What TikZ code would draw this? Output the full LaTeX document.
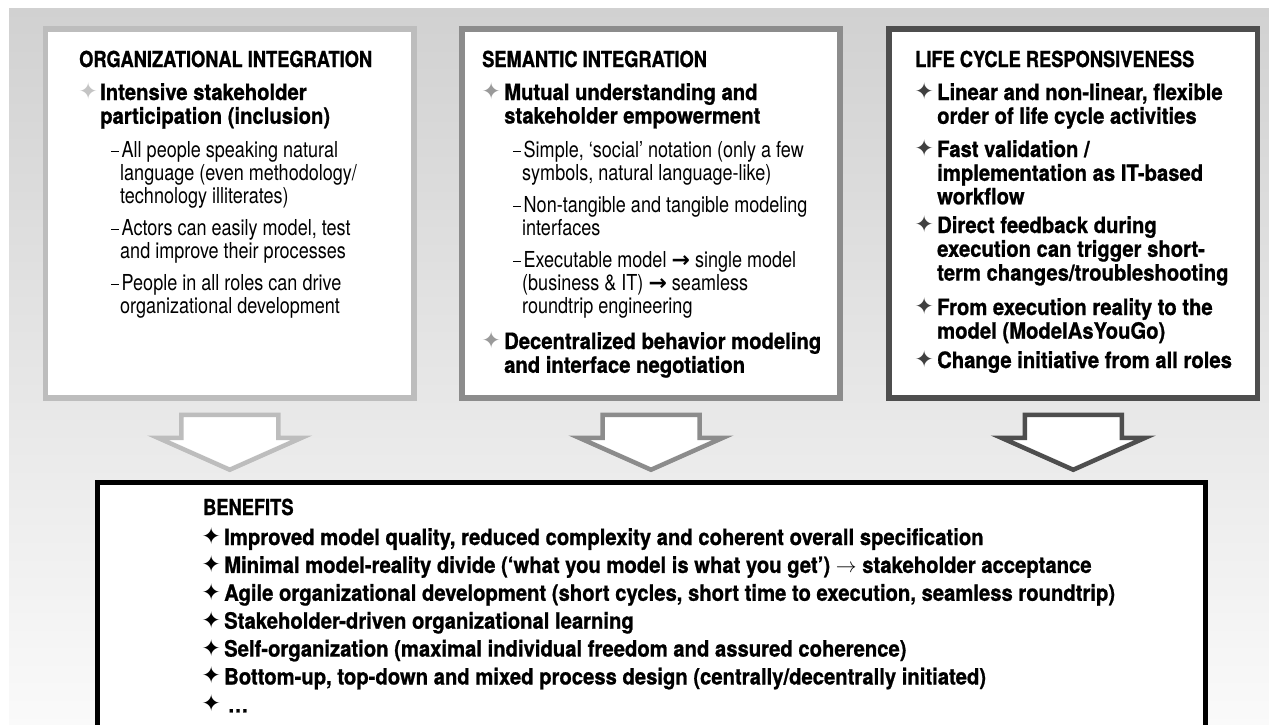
\documentclass[tikz,border=0pt]{standalone}
\usepackage{fontspec}
\setmainfont{TeX Gyre Heros}
\newfontfamily\headfont[FakeStretch=0.83,FakeBold=1]{TeX Gyre Heros}
\newfontfamily\itemfont[FakeStretch=0.9,FakeBold=0.9]{TeX Gyre Heros}
\newfontfamily\subfont[FakeStretch=0.82]{TeX Gyre Heros}
\newfontfamily\symfont{DejaVu Sans}
\usepackage{tikz}
\usetikzlibrary{positioning}

\definecolor{orggray}{HTML}{BDBDBD}
\definecolor{semgray}{HTML}{8C8C8C}
\definecolor{lifegray}{HTML}{4E4E4E}
\definecolor{orgstar}{HTML}{C4C4C4}
\definecolor{semstar}{HTML}{9A9A9A}
\definecolor{lifestar}{HTML}{404040}

% lines of one item, baseline on the first line
\newcommand{\stack}[1]{\begin{tabular}[t]{@{}l@{}}#1\end{tabular}}
\newcommand{\subdash}{\llap{\rule[5pt]{8pt}{1.3pt}\hspace{1pt}}\hspace{1.5pt}}

\begin{document}
\begin{tikzpicture}[x=1pt,y=-1pt,
	panel/.style={draw, fill=white, line width=5.5pt, minimum height=369pt},
	flow/.style={fill=white, line width=4.5pt, line join=miter},
	head/.style={anchor=base west, inner sep=0pt, font=\headfont\bfseries\fontsize{22}{24}\selectfont},
	item/.style={anchor=base west, inner sep=0pt, font=\itemfont\bfseries\fontsize{22.5}{23.5}\selectfont},
	sub/.style={anchor=base west, inner sep=0pt, font=\subfont\fontsize{22}{23.2}\selectfont},
	bul/.style={anchor=west, inner sep=0pt, text=#1, font=\symfont\fontsize{23}{23}\selectfont}]
	\useasboundingbox (0,0) rectangle (1269,725);
	\shade[top color=black!18, bottom color=black!2] (9,9) rectangle (1269,725);

	% the three panels
	\node[panel, draw=orggray, minimum width=368.5pt] (org) at (229.75,213.5) {};
	\node[panel, draw=semgray, minimum width=378pt] (sem) at (651,213.5) {};
	\node[panel, draw=lifegray, minimum width=368.5pt] (life) at (1073.25,213.5) {};

	% benefits box, runs off the bottom edge
	\node[draw, fill=white, line width=5pt, minimum width=1107.5pt, minimum height=277.5pt] (ben) at (651.25,621.25) {};

	% block arrows below the panels
	\foreach \p/\c in {org/orggray, sem/semgray, life/lifegray}
		\draw[flow, draw=\c] ([shift={(-48.5,14)}]\p.south) -- ++(0,23) -- ++(-23.5,0)
			-- ([shift={(0,69)}]\p.south) -- ++(72,-32) -- ++(-23.5,0) -- ++(0,-23) -- cycle;

	% organizational integration
	\node[head] (orghead) at (79,67) {ORGANIZATIONAL INTEGRATION};
	\node[bul=orgstar] (orgb1) at (78.5,91) {✦};
	\node[item] (orgi1) at (100,100) {\stack{Intensive stakeholder\\participation (inclusion)}};
	\node[sub] (orgs1) at (120,157) {\stack{\subdash All people speaking natural\\language (even methodology/\\technology illiterates)}};
	\node[sub] (orgs2) at (120,235) {\stack{\subdash Actors can easily model, test\\and improve their processes}};
	\node[sub] (orgs3) at (120,290) {\stack{\subdash People in all roles can drive\\organizational development}};

	% semantic integration
	\node[head] (semhead) at (482,67) {SEMANTIC INTEGRATION};
	\node[bul=semstar] (semb1) at (481.5,91) {✦};
	\node[item] (semi1) at (504,100) {\stack{Mutual understanding and\\stakeholder empowerment}};
	\node[sub] (sems1) at (522,157) {\stack{\subdash Simple, ‘social’ notation (only a few\\symbols, natural language-like)}};
	\node[sub] (sems2) at (522,212) {\stack{\subdash Non-tangible and tangible modeling\\interfaces}};
	\node[sub] (sems3) at (522,267) {\stack{\subdash Executable model {\symfont\bfseries →} single model\\(business \& IT) {\symfont\bfseries →} seamless\\roundtrip engineering}};
	\node[bul=semstar] (semb2) at (481.5,340) {✦};
	\node[item] (semi2) at (504,349) {\stack{Decentralized behavior modeling\\and interface negotiation}};

	% life cycle responsiveness
	\node[head] (lifehead) at (915,67) {LIFE CYCLE RESPONSIVENESS};
	\foreach \y/\t [count=\i] in {100/{Linear and non-linear, flexible\\order of life cycle activities},
			157/{Fast validation /\\implementation as IT-based\\workflow},
			233/{Direct feedback during\\execution can trigger short-\\term changes/troubleshooting},
			315/{From execution reality to the\\model (ModelAsYouGo)},
			368/{Change initiative from all roles}} {
		\node[bul=lifestar] (lifeb\i) at (914.5,\y-9) {✦};
		\node[item] (lifei\i) at (937,\y) {\stack{\t}};
	}

	% benefits
	\node[head] (benhead) at (203,515) {BENEFITS};
	\foreach \t [count=\i] in {{Improved model quality, reduced complexity and coherent overall specification},
			{Minimal model-reality divide (‘what you model is what you get’) $\rightarrow$ stakeholder acceptance},
			{Agile organizational development (short cycles, short time to execution, seamless roundtrip)},
			{Stakeholder-driven organizational learning},
			{Self-organization (maximal individual freedom and assured coherence)},
			{Bottom-up, top-down and mixed process design (centrally/decentrally initiated)},
			{\,\dots}} {
		\node[bul=black] (benb\i) at (201.5,545+27.9*\i-27.9-9) {✦};
		\node[item] (beni\i) at (224,545+27.9*\i-27.9) {\t};
	}
\end{tikzpicture}
\end{document}
